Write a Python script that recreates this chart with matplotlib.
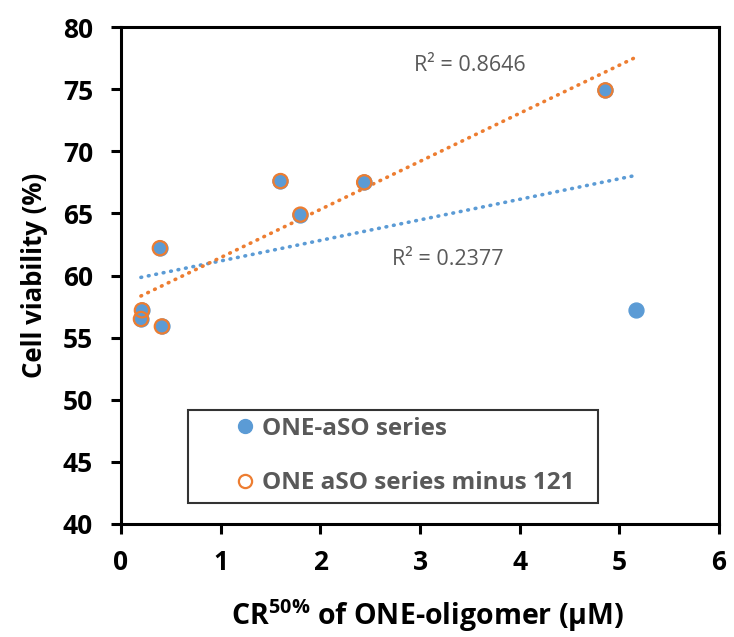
import numpy as np
import matplotlib.pyplot as plt
from matplotlib.lines import Line2D

# ONE-aSO series (all oligomers)
cr50 = [0.20, 0.21, 0.41, 0.39, 1.60, 1.80, 2.44, 4.86, 5.17]
viability = [56.5, 57.2, 55.9, 62.2, 67.6, 64.9, 67.5, 74.9, 57.2]
# same series without oligomer 121 (the last point)
cr50_minus = cr50[:-1]
viability_minus = viability[:-1]

r2_all = "R² = 0.2377"
r2_minus = "R² = 0.8646"

blue = "#5b9bd5"
orange = "#ed7d31"
grey = "#595959"

plt.rcParams['font.family'] = ['Open Sans', 'DejaVu Sans']
plt.rcParams['mathtext.fontset'] = 'custom'
plt.rcParams['mathtext.rm'] = 'Open Sans'
plt.rcParams['mathtext.bf'] = 'Open Sans:bold'

fig = plt.figure(figsize=(7.34, 6.37), dpi=100)
ax = fig.add_axes([121/734, 113/637, 598/734, 497/637])

# trendlines (linear fits), drawn over the full x range
xs = np.array([min(cr50), max(cr50)])
p1 = np.polyfit(cr50, viability, 1)
p2 = np.polyfit(cr50_minus, viability_minus, 1)
dots = (0, (0.2, 1.9))
ax.plot(xs, np.polyval(p1, xs), color=blue, ls=dots, lw=2.6,
        dash_capstyle='round', zorder=2)
ax.plot(xs, np.polyval(p2, xs), color=orange, ls=dots, lw=2.6,
        dash_capstyle='round', zorder=2)

ax.scatter(cr50, viability, s=115, color=blue, zorder=3)
ax.scatter(cr50_minus, viability_minus, s=105, facecolor='none',
           edgecolor=orange, linewidth=1.6, zorder=4)

ax.text(3.5, 76.9, r2_minus, color=grey, fontsize=15.5, ha='center', va='center')
ax.text(3.28, 61.3, r2_all, color=grey, fontsize=15.5, ha='center', va='center')

ax.set_xlim(0, 6)
ax.set_ylim(40, 80)
ax.set_xticks(range(0, 7))
ax.set_yticks(range(40, 81, 5))
for s in ax.spines.values():
    s.set_linewidth(2.2)
ax.tick_params(direction='out', length=7, width=2.2, labelsize=19)
ax.tick_params(axis='y', pad=13)
ax.tick_params(axis='x', pad=11)
for lab in ax.get_xticklabels() + ax.get_yticklabels():
    lab.set_fontweight('bold')

ax.set_xlabel(r"CR$^{\mathbf{50\%}}$ of ONE-oligomer (μM)", fontsize=20.5,
              fontweight='bold')
ax.xaxis.set_label_coords(0.513, -0.148)
ax.set_ylabel("Cell viability (%)", fontsize=18.5, fontweight='bold', labelpad=11)

handles = [
    Line2D([], [], marker='o', ls='none', color=blue, markersize=10),
    Line2D([], [], marker='o', ls='none', markerfacecolor='none',
           markeredgecolor=orange, markeredgewidth=1.6, markersize=9.5),
]
leg = ax.legend(handles, ["ONE-aSO series", "ONE aSO series minus 121"],
                loc='lower left', bbox_to_anchor=(0.112, 0.043, 0.686, 0.193),
                mode='expand', fancybox=False, edgecolor='black',
                prop={'weight': 'bold', 'size': 17.5}, labelcolor=grey,
                borderpad=0.3, labelspacing=1.25, handletextpad=-1.34,
                borderaxespad=0, handlelength=4.1)
leg.get_frame().set_linewidth(1.5)

fig.savefig("out.png", dpi=100)
